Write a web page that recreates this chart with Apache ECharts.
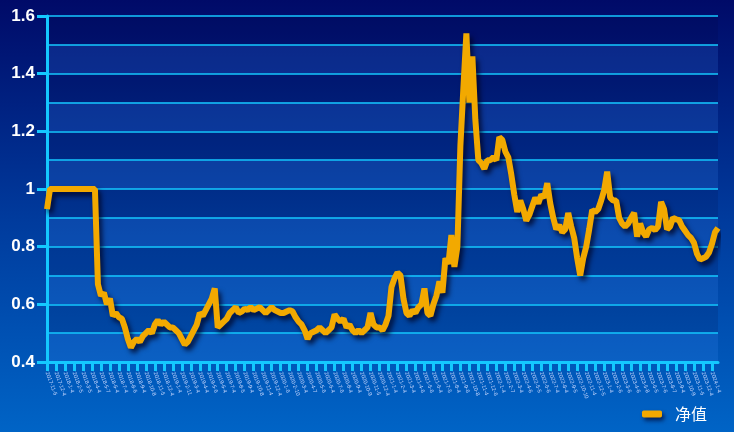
<!DOCTYPE html>
<html><head><meta charset="utf-8">
<script src="https://cdn.jsdelivr.net/npm/echarts@6/dist/echarts.min.js"></script>
<style>html,body{margin:0;padding:0;}#c{width:734px;height:432px;}</style>
</head><body><div id="c"></div>
<script>
const seriesName = '净值';
const yTicks = ['0.4','0.6','0.8','1','1.2','1.4','1.6'];
const dates = [
'2017-11-6','2017-11-16','2017-11-27','2017-12-4','2017-12-14','2017-12-25',
'2018-1-4','2018-1-15','2018-1-25','2018-2-5','2018-2-14','2018-2-26','2018-3-5','2018-3-15','2018-3-26',
'2018-4-4','2018-4-16','2018-4-26','2018-5-7','2018-5-17','2018-5-28','2018-6-4','2018-6-14','2018-6-25',
'2018-7-4','2018-7-16','2018-7-26','2018-8-6','2018-8-16','2018-8-27','2018-9-4','2018-9-14','2018-9-25',
'2018-10-8','2018-10-18','2018-10-29','2018-11-5','2018-11-15','2018-11-26','2018-12-4','2018-12-14','2018-12-25',
'2019-1-4','2019-1-15','2019-1-25','2019-2-11','2019-2-19','2019-2-26','2019-3-4','2019-3-14','2019-3-25',
'2019-4-4','2019-4-15','2019-4-25','2019-5-6','2019-5-16','2019-5-27','2019-6-4','2019-6-14','2019-6-25',
'2019-7-4','2019-7-15','2019-7-25','2019-8-5','2019-8-15','2019-8-26','2019-9-4','2019-9-16','2019-9-26',
'2019-10-8','2019-10-18','2019-10-28','2019-11-4','2019-11-14','2019-11-25','2019-12-4','2019-12-16','2019-12-26',
'2020-1-6','2020-1-16','2020-2-3','2020-2-10','2020-2-20','2020-2-27','2020-3-4','2020-3-16','2020-3-26',
'2020-4-7','2020-4-16','2020-4-27','2020-5-6','2020-5-18','2020-5-28','2020-6-4','2020-6-15','2020-6-24',
'2020-7-6','2020-7-16','2020-7-27','2020-8-4','2020-8-14','2020-8-25','2020-9-4','2020-9-15','2020-9-25',
'2020-10-9','2020-10-19','2020-10-29','2020-11-5','2020-11-16','2020-11-26','2020-12-4','2020-12-15','2020-12-25',
'2021-1-4','2021-1-14','2021-1-25','2021-2-4','2021-2-18','2021-2-25','2021-3-4','2021-3-15','2021-3-25',
'2021-4-6','2021-4-15','2021-4-26','2021-5-6','2021-5-17','2021-5-27','2021-6-4','2021-6-15','2021-6-25',
'2021-7-5','2021-7-15','2021-7-26','2021-8-4','2021-8-16','2021-8-26','2021-9-6','2021-9-16','2021-9-27',
'2021-10-8','2021-10-18','2021-10-28','2021-11-4','2021-11-15','2021-11-25','2021-12-6','2021-12-16','2021-12-27',
'2022-1-4','2022-1-14','2022-1-25','2022-2-7','2022-2-17','2022-2-25','2022-3-4','2022-3-15','2022-3-25',
'2022-4-6','2022-4-15','2022-4-26','2022-5-5','2022-5-16','2022-5-26','2022-6-6','2022-6-16','2022-6-27',
'2022-7-4','2022-7-14','2022-7-25','2022-8-4','2022-8-15','2022-8-25','2022-9-5','2022-9-15','2022-9-26',
'2022-10-10','2022-10-20','2022-10-28','2022-11-4','2022-11-15','2022-11-25','2022-12-5','2022-12-15','2022-12-26',
'2023-1-4','2023-1-13','2023-1-30','2023-2-6','2023-2-16','2023-2-27','2023-3-6','2023-3-16','2023-3-27',
'2023-4-6','2023-4-17','2023-4-27','2023-5-8','2023-5-18','2023-5-29','2023-6-5','2023-6-15','2023-6-26',
'2023-7-6','2023-7-17','2023-7-27','2023-8-7','2023-8-17','2023-8-28','2023-9-4','2023-9-14','2023-9-25',
'2023-10-9','2023-10-19','2023-10-30','2023-11-6','2023-11-16','2023-11-27','2023-12-4','2023-12-14','2023-12-25',
'2024-1-4','2024-1-16','2024-1-26'
];
const navValues = [
0.93,1.0,1.0,1.0,1.0,1.0,1.0,1.0,1.0,1.0,1.0,1.0,1.0,1.0,1.0,
1.0,1.0,0.67,0.63,0.64,0.6,0.62,0.56,0.57,0.555,0.55,0.52,0.48,0.45,0.47,
0.48,0.47,0.49,0.5,0.51,0.5,0.53,0.545,0.53,0.54,0.53,0.52,0.52,0.51,0.5,
0.48,0.46,0.47,0.49,0.51,0.53,0.57,0.56,0.58,0.6,0.62,0.655,0.52,0.53,0.54,
0.55,0.57,0.58,0.59,0.57,0.575,0.585,0.58,0.59,0.58,0.585,0.59,0.58,0.57,0.58,
0.59,0.58,0.575,0.57,0.57,0.575,0.58,0.575,0.555,0.54,0.53,0.51,0.48,0.5,0.505,
0.51,0.52,0.51,0.5,0.51,0.52,0.565,0.55,0.54,0.55,0.52,0.53,0.51,0.5,0.51,
0.5,0.51,0.52,0.57,0.53,0.52,0.52,0.51,0.53,0.56,0.66,0.69,0.71,0.7,0.62,
0.57,0.56,0.58,0.57,0.59,0.6,0.655,0.57,0.56,0.6,0.63,0.68,0.64,0.76,0.74,
0.84,0.73,0.8,1.15,1.35,1.54,1.3,1.46,1.24,1.1,1.09,1.07,1.1,1.1,1.11,
1.1,1.18,1.17,1.13,1.11,1.05,0.98,0.92,0.96,0.93,0.89,0.91,0.94,0.97,0.95,
0.98,0.97,1.02,0.95,0.9,0.86,0.875,0.85,0.86,0.917,0.87,0.83,0.76,0.7,0.76,
0.8,0.86,0.927,0.92,0.93,0.96,0.996,1.06,0.97,0.96,0.96,0.9,0.88,0.87,0.88,
0.9,0.917,0.835,0.88,0.85,0.835,0.86,0.865,0.858,0.87,0.955,0.93,0.86,0.87,0.9,
0.895,0.892,0.87,0.855,0.84,0.83,0.813,0.775,0.755,0.76,0.765,0.78,0.81,0.85,0.865
];

const chart = echarts.init(document.getElementById('c'));
const cyan = '#14c8ff';
chart.setOption({
  animation: false,
  backgroundColor: new echarts.graphic.LinearGradient(0,0,0,1,[
    {offset:0,color:'#000a68'},{offset:0.5,color:'#003a9c'},{offset:1,color:'#0064c6'}
  ]),
  grid: {left: 47, right: 16, top: 16, bottom: 70},
  legend: {
    data: [seriesName], right: 22, bottom: 5,
    icon: 'roundRect', itemWidth: 20, itemHeight: 7,
    itemStyle: {color: '#f2a900', shadowColor: 'rgba(0,0,40,0.7)', shadowBlur: 4, shadowOffsetX: 2, shadowOffsetY: 3},
    textStyle: {color: '#ffffff', fontSize: 16, fontFamily: 'Noto Sans CJK SC', padding: [0, 0, 0, 8]}
  },
  xAxis: {
    type: 'category', data: dates, boundaryGap: false,
    axisLine: {lineStyle: {color: cyan, width: 3}},
    axisTick: {show: true, interval: 2, length: 9, lineStyle: {color: cyan, width: 3}},
    axisLabel: {interval: 2, rotate: -70, fontSize: 5.5, color: '#c8d8ff', margin: 10, fontFamily: 'Liberation Sans'},
    splitLine: {show: false}
  },
  yAxis: [
    {
      type: 'value', min: 0.4, max: 1.6, interval: 0.2, position: 'left',
      axisLine: {show: true, lineStyle: {color: cyan, width: 3}},
      axisTick: {show: true, length: 10, lineStyle: {color: cyan, width: 3}},
      axisLabel: {color: '#ffffff', fontSize: 17, fontWeight: 'bold', fontFamily: 'Liberation Sans', margin: 12,
        formatter: function (v) { const s = String(Math.round(v * 10) / 10); return yTicks.indexOf(s) >= 0 ? s : ''; }},
      splitLine: {show: false}
    },
    {
      type: 'value', min: 0.4, max: 1.6, interval: 0.1, position: 'left',
      axisLine: {show: false}, axisTick: {show: false}, axisLabel: {show: false},
      splitLine: {show: true, lineStyle: {color: cyan, width: 1.5}},
      splitArea: {show: true, areaStyle: {color: ['rgba(70,150,255,0.16)', 'rgba(0,0,50,0.12)']}}
    }
  ],
  series: [{
    name: seriesName, type: 'line', data: navValues, yAxisIndex: 0,
    showSymbol: false, symbol: 'none',
    itemStyle: {color: '#f2a900'},
    lineStyle: {color: '#f2a900', width: 6, shadowColor: 'rgba(0,0,30,0.75)', shadowBlur: 5, shadowOffsetX: 3, shadowOffsetY: 4},
    z: 5
  }]
});
</script>
</body></html>
